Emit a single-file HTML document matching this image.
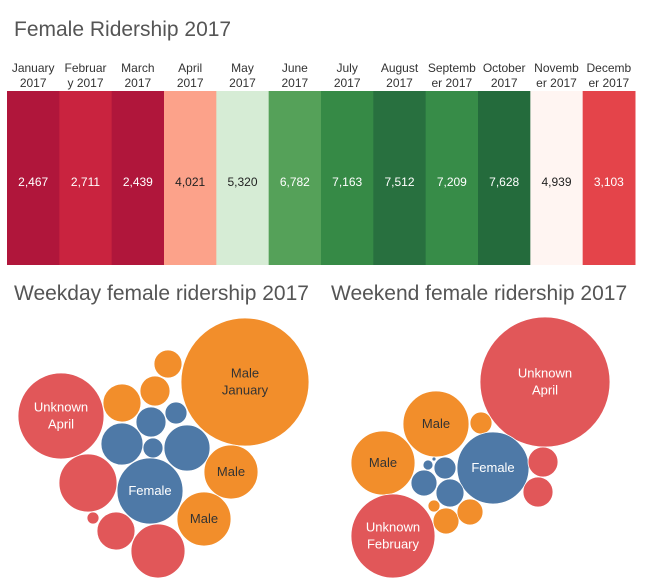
<!DOCTYPE html>
<html><head><meta charset="utf-8"><style>
body{margin:0;width:645px;height:586px;background:#fff;overflow:hidden;font-family:"Liberation Sans",sans-serif}
svg{position:absolute;left:0;top:0}
</style></head><body>
<svg width="645" height="586" id="svg"></svg>
<script>
const months=["January 2017","February 2017","March 2017","April 2017","May 2017","June 2017","July 2017","August 2017","September 2017","October 2017","November 2017","December 2017"];
const labelLine1=["January","Februar","March","April","May","June","July","August","Septemb","October","Novemb","Decemb"];
const labelLine2=["2017","y 2017","2017","2017","2017","2017","2017","2017","er 2017","2017","er 2017","er 2017"];
const ridership=[2467,2711,2439,4021,5320,6782,7163,7512,7209,7628,4939,3103];
const valueLabels=["2,467","2,711","2,439","4,021","5,320","6,782","7,163","7,512","7,209","7,628","4,939","3,103"];
const cellColors=["#b0163b","#c9233f","#b0163b","#fca28a","#d6ecd5","#55a159","#368a46","#28703f","#378c48","#246b3c","#fff5f2","#e4444a"];
const cellDark=[true,true,true,false,false,true,true,true,true,true,false,true];
const wdGender=["Male","Unknown","Male","Male","Male","Female","Female","Female","Female","Female","Female","Unknown","Male","Male","Unknown","Unknown","Unknown"];
const wdLabel=["Male\nJanuary","Unknown\nApril","","","","","","","","","Female","","Male","Male","","",""];
const wdValue=[4096,1849,196,225,361,225,121,441,100,529,1089,841,729,729,36,361,729];
const wdX=[245,61,168,155,122,151,176,122,153,187,150,88,231,204,93,116,158];
const wdY=[382,416,364,391,403,422,413,444,448,448,491,483,472,519,518,531,551];
const weGender=["Unknown","Male","Male","Male","Female","Unknown","Unknown","Female","Female","Female","Female","Female","Male","Male","Male","Unknown"];
const weLabel=["Unknown\nApril","Male","","Male","Female","","","","","","","","","","","Unknown\nFebruary"];
const weValue=[4225,1089,121,1024,1296,225,225,121,25,4,169,196,36,169,169,1764];
const weX=[545,436,481,383,493,543,538,445,428,434,424,450,434,446,470,393];
const weY=[382,424,423,463,468,462,492,468,465,459,483,493,506,521,512,536];
const gColor={Male:"#f28e2b",Female:"#4e79a7",Unknown:"#e15759"};
const NS="http://www.w3.org/2000/svg";
const svg=document.getElementById('svg');
function mk(t,a,p){const e=document.createElementNS(NS,t);for(const k in a)e.setAttribute(k,a[k]);(p||svg).appendChild(e);return e;}
function txt(x,y,s,size,fill,anchor,p){const e=mk('text',{x:x,y:y,'font-size':size,fill:fill,'text-anchor':anchor||'middle'},p);e.textContent=s;return e;}
let t=txt(14,36,"Female Ridership 2017",21,"#555","start");


const x0=7,cw=(635-7)/12,yTop=91,yBot=265;
const xCell=i=>x0+i*cw;
const hm=mk('g',{});


months.forEach((m,i)=>{
  const g=mk('g',{},hm);
  
  
  mk('rect',{x:xCell(i),y:yTop,width:cw+0.5,height:yBot-yTop,fill:cellColors[i]},g);
  txt(xCell(i)+cw/2,186,valueLabels[i],12,cellDark[i]?"#fff":"#222","middle",g);
  txt(xCell(i)+cw/2,72,labelLine1[i],12,"#333","middle",g);
  txt(xCell(i)+cw/2,87,labelLine2[i],12,"#333","middle",g);
});
t=txt(14,300,"Weekday female ridership 2017",21,"#555","start");


t=txt(331,300,"Weekend female ridership 2017",21,"#555","start");


const rScale=v=>Math.sqrt(v);
function bubbles(name,gen,lab,val,xs,ys){
  const g=mk('g',{});
  
  
  val.forEach((v,i)=>{
    const c=mk('circle',{cx:xs[i],cy:ys[i],r:rScale(v),fill:gColor[gen[i]],stroke:'#fff','stroke-width':0.8},g);
    
    
    if(lab[i]){
      const L=lab[i].split("\n");const col=gen[i]==="Male"?"#333":"#fff";
      L.forEach((s,k)=>txt(xs[i],ys[i]+4+(k-(L.length-1)/2)*17,s,13,col,"middle",g));
    }
  });
}
bubbles('weekday-bubbles',wdGender,wdLabel,wdValue,wdX,wdY);
bubbles('weekend-bubbles',weGender,weLabel,weValue,weX,weY);
</script>
</body></html>
